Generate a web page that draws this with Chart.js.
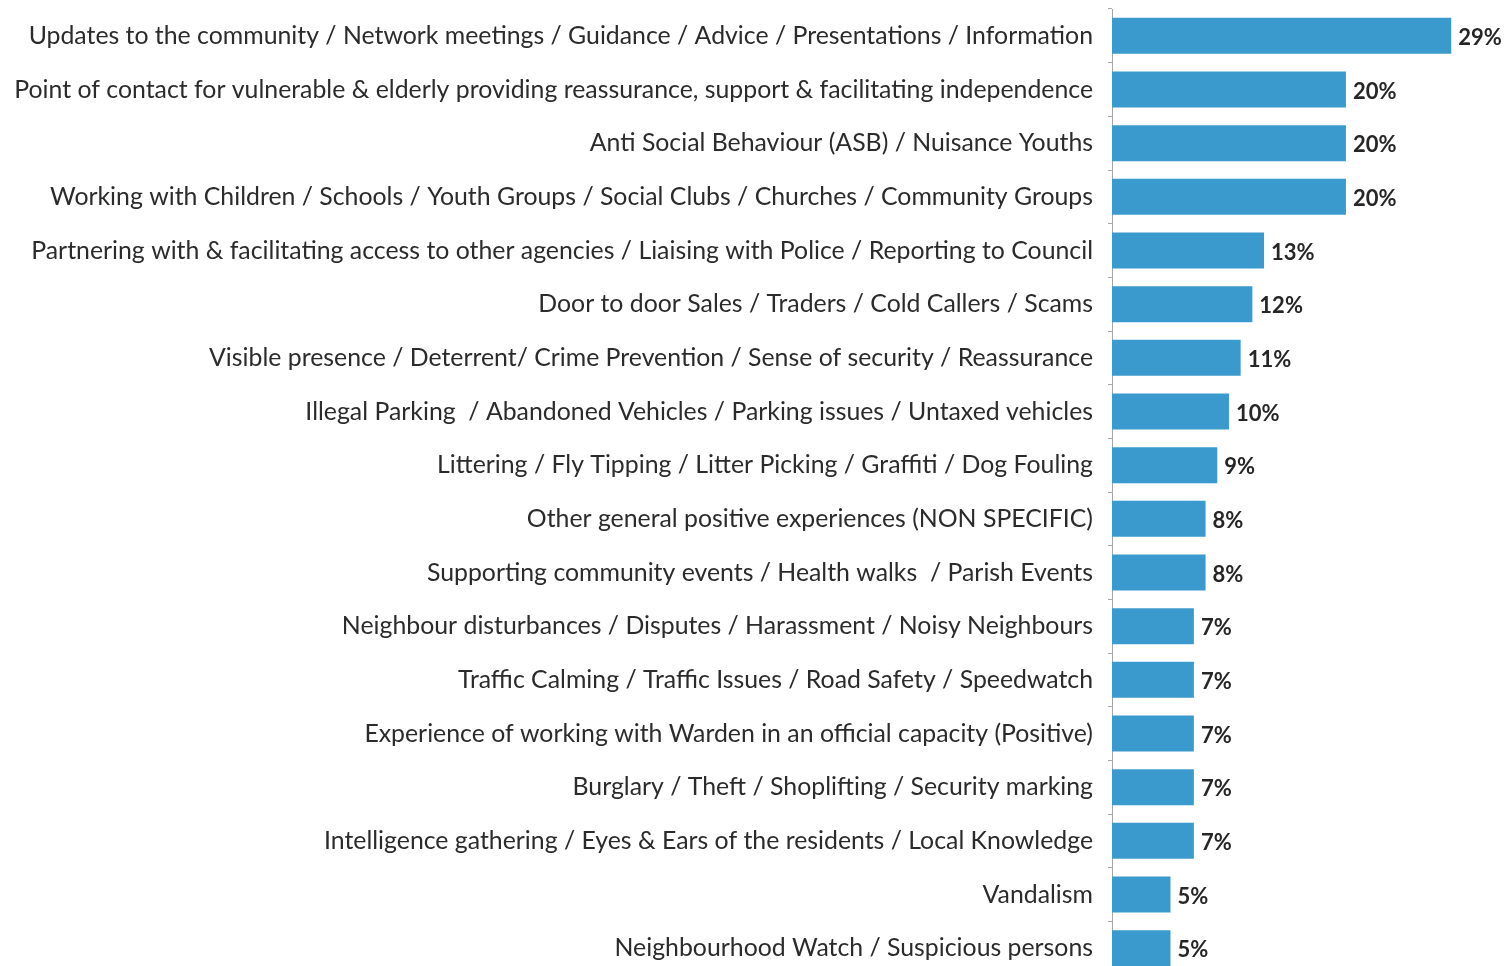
<!DOCTYPE html>
<html>
<head>
<meta charset="utf-8">
<script src="https://cdn.jsdelivr.net/npm/chart.js@4/dist/chart.umd.min.js"></script>
<style>
  html, body { margin: 0; padding: 0; background: #fff; overflow: hidden; }
  .wrap { position: relative; width: 1506px; height: 976px; }
</style>
</head>
<body>
<div class="wrap"><canvas id="myChart"></canvas></div>
<script>
/* data */
const categories = [
  'Updates to the community / Network meetings / Guidance / Advice / Presentations / Information',
  'Point of contact for vulnerable & elderly providing reassurance, support & facilitating independence',
  'Anti Social Behaviour (ASB) / Nuisance Youths',
  'Working with Children / Schools / Youth Groups / Social Clubs / Churches / Community Groups',
  'Partnering with & facilitating access to other agencies / Liaising with Police / Reporting to Council',
  'Door to door Sales / Traders / Cold Callers / Scams',
  'Visible presence / Deterrent/ Crime Prevention / Sense of security / Reassurance',
  'Illegal Parking  / Abandoned Vehicles / Parking issues / Untaxed vehicles',
  'Littering / Fly Tipping / Litter Picking / Graffiti / Dog Fouling',
  'Other general positive experiences (NON SPECIFIC)',
  'Supporting community events / Health walks  / Parish Events',
  'Neighbour disturbances / Disputes / Harassment / Noisy Neighbours',
  'Traffic Calming / Traffic Issues / Road Safety / Speedwatch',
  'Experience of working with Warden in an official capacity (Positive)',
  'Burglary / Theft / Shoplifting / Security marking',
  'Intelligence gathering / Eyes & Ears of the residents / Local Knowledge',
  'Vandalism',
  'Neighbourhood Watch / Suspicious persons',
];
const percentages = [29, 20, 20, 20, 13, 12, 11, 10, 9, 8, 8, 7, 7, 7, 7, 7, 5, 5];
const valueLabels = percentages.map((v) => `${v}%`);

const family = 'Lato, "Open Sans", sans-serif';

/* fit label font so the longest label spans about the same width as the original */
const measure = document.createElement('canvas').getContext('2d');
measure.font = `22px ${family}`;
const widest = Math.max(...categories.map((c) => measure.measureText(c).width));
const labelSize = (22 * 1079) / widest;

/* value labels at the end of each bar */
const valueLabelPlugin = {
  id: 'valueLabels',
  afterDatasetsDraw(chart) {
    const ctx = chart.ctx;
    const meta = chart.getDatasetMeta(0);
    ctx.save();
    ctx.font = `bold 22px ${family}`;
    ctx.fillStyle = '#262626';
    ctx.textAlign = 'left';
    ctx.textBaseline = 'middle';
    meta.data.forEach((bar, i) => {
      ctx.fillText(valueLabels[i], bar.x + 7, bar.y + 2);
    });
    ctx.restore();
  },
};

const chart = document.getElementById('myChart');
const myChart = new Chart(chart, {
  type: 'bar',
  data: {
    labels: categories,
    datasets: [
      {
        data: percentages,
        backgroundColor: '#3b9acd',
        borderWidth: 0,
        barPercentage: 0.67,
        categoryPercentage: 1,
      },
    ],
  },
  options: {
    indexAxis: 'y',
    responsive: true,
    maintainAspectRatio: false,
    animation: false,
    layout: {
      padding: { top: 9, bottom: 1, left: 0, right: 8 },
    },
    plugins: {
      legend: { display: false },
      tooltip: { enabled: false },
    },
    scales: {
      x: {
        display: false,
        min: 0,
        max: 33,
      },
      y: {
        afterFit: (scale) => {
          scale.width = 1112;
          scale.paddingTop = 0;
          scale.paddingBottom = 0;
        },
        border: { display: true, color: '#a6a6a6', width: 1 },
        grid: {
          offset: true,
          drawOnChartArea: false,
          drawTicks: true,
          tickLength: 4,
          color: '#a6a6a6',
        },
        ticks: {
          padding: 15,
          color: '#2b2b2b',
          font: { family: family, size: labelSize },
          autoSkip: false,
        },
      },
    },
  },
  plugins: [valueLabelPlugin],
});
</script>
</body>
</html>
